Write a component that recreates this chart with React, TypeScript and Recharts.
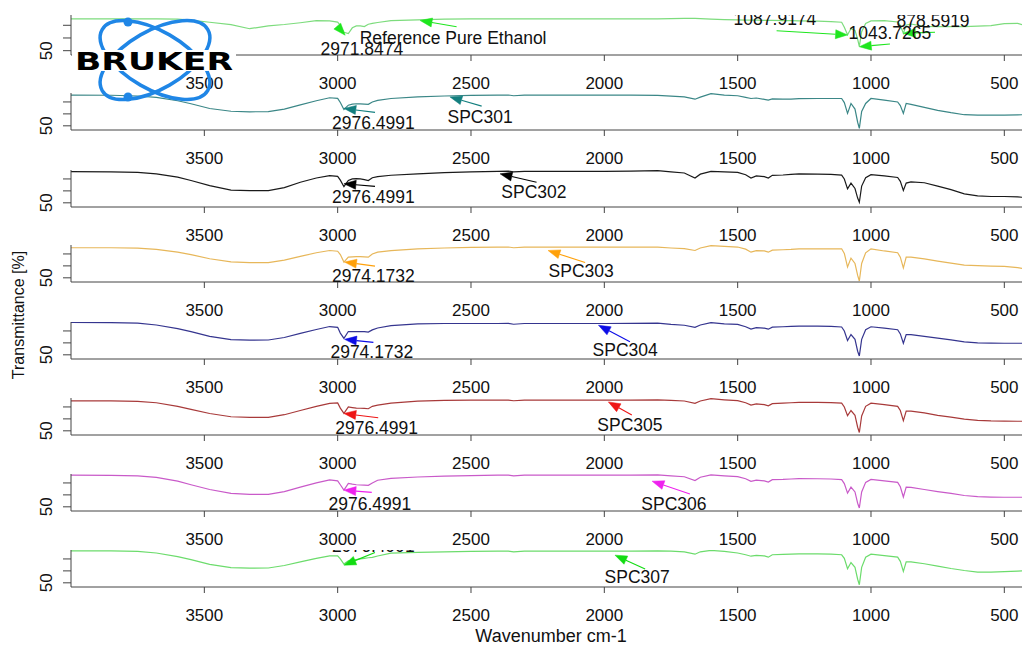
import React from 'react';
import { LineChart, Line, XAxis, YAxis, ReferenceLine, ReferenceDot } from 'recharts';

// shared wavenumber grid (cm-1), high to low
const wavenumbers = [
  4000, 3850, 3750, 3680, 3600, 3550, 3480, 3400, 3330, 3260,
  3200, 3140, 3080, 3030, 3000, 2990, 2976.4991, 2960, 2945, 2930,
  2915, 2900, 2885, 2870, 2850, 2800, 2700, 2600, 2500, 2400,
  2360, 2340, 2300, 2200, 2100, 2000, 1900, 1800, 1750, 1700,
  1660, 1640, 1600, 1550, 1500, 1470, 1450, 1430, 1400, 1385,
  1370, 1330, 1300, 1270, 1200, 1150, 1110, 1100, 1087.9174, 1075,
  1060, 1050, 1043.7265, 1035, 1020, 1000, 950, 900, 890, 878.5919,
  868, 850, 800, 750, 700, 650, 600, 550, 500, 450, 430,
];

// transmittance [%] per sample on the grid above
const referenceEthanol = [
  75, 75, 75, 75, 74.8, 74, 72.4, 70.5, 67.3, 69.6,
  70.6, 72, 73.6, 73.5, 72.5, 70, 64.5, 63.5, 68, 69.5,
  69.5, 69, 70.8, 71.5, 72.2, 73.6, 74.3, 74.8, 75, 75,
  75, 75, 75, 75, 75, 75, 75, 75, 75.2, 75.5,
  75.4, 75.2, 74.8, 74.4, 74.2, 74.1, 74, 74, 73.9, 73.8,
  73.8, 73.7, 73.6, 73.5, 73.2, 72.9, 72.4, 68.5, 62.5, 67.5,
  66, 59, 53.3, 65, 71.5, 73.5, 73.6, 72.6, 70, 63.5,
  70, 71, 69.2, 68.9, 68.9, 69, 69.3, 69.8, 71.3, 71.5, 70.2,
];
const spc301 = [
  75.7, 75.6, 75.0, 73.8, 71.0, 68.5, 64.5, 62.2, 61.75, 61.9,
  64.0, 67.5, 71.0, 73.5, 73.0, 69.5, 63.75, 67.3, 68.2, 68.5,
  68.4, 68.2, 68.0, 70.0, 71.3, 72.9, 74.2, 75.0, 75.5, 75.7,
  75.8, 75.2, 75.7, 75.7, 75.7, 75.8, 75.8, 75.5, 74.8, 74.2,
  72.3, 74.0, 77.0, 75.7, 75.2, 73.8, 72.9, 73.3, 72.2, 71.5,
  72.5, 72.3, 72.4, 72.8, 72.9, 72.9, 72.9, 69.5, 60.4, 68.75,
  64.0, 53.0, 47.9, 62.0, 68.75, 72.9, 71.5, 70.0, 67.0, 60.4,
  68.75, 68.0, 65.5, 63.0, 61.0, 59.3, 59.0, 59.0, 59.0, 59.2, 59.3,
];
const spc302 = [
  76.1, 76.0, 75.5, 74.2, 71.5, 68.7, 64.4, 60.6, 60.2, 60.3,
  62.7, 67.2, 70.8, 72.8, 72.2, 69.0, 63.5, 68.7, 70.0, 70.2,
  70.0, 69.5, 68.7, 71.0, 72.0, 73.1, 74.3, 75.3, 75.9, 76.4,
  76.6, 75.9, 76.4, 76.4, 76.4, 76.4, 76.5, 76.9, 76.0, 75.0,
  70.8, 74.0, 76.3, 76.0, 75.5, 73.5, 70.8, 72.5, 71.9, 70.8,
  73.0, 73.3, 73.8, 74.2, 74.0, 73.8, 73.2, 70.0, 61.7, 66.5,
  62.0, 54.0, 50.5, 64.0, 71.0, 73.6, 72.5, 71.2, 68.0, 60.3,
  66.5, 67.5, 66.8, 64.0, 61.0, 57.5, 55.8, 55.3, 55.3, 55.0, 54.6,
];
const spc303 = [
  75.2, 75.2, 74.8, 73.8, 71.5, 69.5, 66.0, 63.3, 62.7, 62.8,
  64.8, 68.0, 71.0, 72.9, 72.3, 69.5, 63.2, 67.3, 67.6, 67.8,
  67.8, 67.6, 67.3, 70.0, 71.5, 72.8, 74.3, 75.0, 75.5, 75.7,
  75.8, 75.2, 75.7, 75.7, 75.7, 75.7, 75.7, 75.7, 75.0, 74.5,
  72.9, 75.0, 77.0, 76.3, 75.8, 74.0, 71.5, 72.8, 72.5, 71.5,
  73.2, 73.5, 73.8, 74.3, 74.3, 74.3, 74.3, 70.5, 59.0, 66.5,
  62.0, 52.0, 47.3, 62.0, 71.0, 74.3, 72.5, 71.0, 67.3, 58.2,
  67.3, 67.3, 65.8, 64.0, 62.3, 60.6, 60.2, 59.8, 59.6, 58.5, 57.7,
];
const spc304 = [
  77.2, 77.0, 76.5, 75.0, 72.0, 69.5, 65.5, 62.8, 62.3, 62.4,
  64.5, 68.0, 71.2, 73.7, 73.0, 68.2, 63.75, 69.5, 69.5, 69.5,
  69.5, 69.5, 69.0, 70.9, 72.5, 74.5, 76.0, 76.25, 76.25, 76.25,
  76.3, 75.6, 76.25, 76.25, 76.25, 76.25, 76.3, 76.5, 75.5, 74.8,
  73.0, 75.0, 77.0, 76.0, 75.5, 73.5, 71.5, 72.8, 72.3, 71.5,
  73.2, 73.5, 73.8, 74.0, 74.0, 73.8, 73.3, 70.0, 62.0, 67.0,
  63.0, 53.0, 49.0, 63.0, 71.0, 73.5, 72.3, 71.0, 67.5, 59.7,
  67.0, 67.0, 65.5, 64.0, 62.5, 60.8, 60.0, 59.8, 59.7, 59.7, 59.7,
];
const spc305 = [
  75.1, 75.1, 74.6, 73.5, 70.5, 68.0, 64.5, 61.8, 61.2, 61.3,
  63.5, 67.0, 70.5, 73.0, 73.4, 69.0, 64.6, 70.0, 69.5, 69.0,
  68.9, 68.75, 68.5, 70.5, 71.5, 73.2, 74.8, 75.5, 75.7, 75.7,
  75.7, 75.2, 75.7, 75.7, 75.7, 75.7, 75.8, 76.0, 75.5, 75.0,
  73.0, 75.0, 76.9, 76.0, 75.3, 73.5, 71.5, 72.5, 72.0, 71.0,
  72.8, 73.2, 73.5, 73.8, 73.8, 73.6, 73.2, 70.0, 62.75, 67.0,
  63.0, 53.0, 48.6, 62.5, 70.5, 73.2, 72.0, 70.5, 67.0, 58.6,
  66.5, 66.5, 65.0, 63.0, 61.5, 59.8, 58.8, 58.3, 58.1, 58.0, 58.0,
];
const spc306 = [
  76.5, 76.4, 76.0, 74.7, 71.5, 68.5, 64.5, 61.2, 60.4, 60.5,
  62.8, 66.5, 70.0, 72.5, 71.75, 68.5, 64.0, 69.6, 69.0, 68.5,
  68.3, 68.2, 68.0, 70.0, 72.3, 73.8, 75.0, 75.8, 76.2, 76.5,
  76.6, 76.0, 76.5, 76.5, 76.5, 76.5, 76.5, 76.7, 76.0, 75.2,
  72.0, 74.8, 76.8, 76.0, 75.3, 73.5, 71.3, 72.3, 71.8, 70.8,
  72.8, 73.0, 73.3, 73.6, 73.5, 73.3, 72.8, 69.5, 61.5, 66.5,
  62.5, 53.0, 49.0, 62.5, 70.5, 73.0, 71.8, 70.5, 66.8, 58.2,
  66.5, 66.3, 64.5, 62.8, 61.2, 59.5, 58.6, 58.2, 58.0, 58.0, 58.0,
];
const spc307 = [
  76.8, 76.7, 76.3, 75.0, 72.0, 69.5, 65.5, 62.8, 62.3, 62.4,
  64.5, 67.5, 70.5, 72.6, 72.5, 70.0, 65.7, 68.4, 69.0, 69.5,
  70.0, 70.5, 71.0, 71.3, 72.5, 74.8, 75.5, 76.0, 76.3, 76.5,
  76.6, 76.0, 76.5, 76.5, 76.5, 76.5, 76.5, 76.8, 76.5, 76.0,
  74.0, 76.0, 77.2, 76.3, 75.0, 73.5, 72.3, 73.0, 72.5, 71.5,
  73.5, 73.8, 74.0, 74.2, 74.2, 74.0, 73.5, 70.5, 61.75, 67.0,
  63.0, 53.0, 48.4, 63.0, 71.5, 74.0, 72.8, 71.5, 68.0, 59.5,
  67.5, 67.5, 66.0, 64.0, 62.0, 60.3, 59.0, 59.0, 59.3, 59.8, 60.0,
];

const xTicks = [3500, 3000, 2500, 2000, 1500, 1000, 500];
const yTicks = [50, 60, 70];

// picked peaks (cm-1)
const PEAK_CH_REF = 2971.8474;
const PEAK_CH_A = 2976.4991;
const PEAK_CH_B = 2974.1732;
const PEAK_CO_1 = 1087.9174;
const PEAK_CO_2 = 1043.7265;
const PEAK_CC = 878.5919;

type Pt = [number, number];
interface Note { text: string; at: Pt }
interface Arrow { from: Pt; to: Pt }
interface Panel {
  values: number[];
  color: string;
  arrowColor: string;
  axisY: number;
  plotH: number;
  domain: [number, number];
  frameTop?: boolean;
  notes: Note[];
  arrows: Arrow[];
}

const W = 1022;
const LEFT = 71;
const TOP = 10;
const X_DOMAIN: [number, number] = [433.7, 4000];
const AXIS = '#444';
const FONT = '"Liberation Sans", Arial, Helvetica, sans-serif';
const STD_DOMAIN: [number, number] = [46.5, 77.5];

const panels: Panel[] = [
  {
    values: referenceEthanol, color: '#7ddc7d', arrowColor: '#1ee61e',
    axisY: 55, plotH: 40, domain: [46.6, 78.1], frameTop: true,
    notes: [
      { text: 'Reference Pure Ethanol', at: [2567, 60.3] },
      { text: String(PEAK_CH_REF), at: [2909, 51.3] },
      { text: String(PEAK_CO_1), at: [1360, 74.8] },
      { text: String(PEAK_CO_2), at: [929, 63.9] },
      { text: String(PEAK_CC), at: [767, 73.6] },
    ],
    arrows: [
      { from: [2554, 68.9], to: [2691, 73.8] },
      { from: [3000, 69], to: [PEAK_CH_REF, 62.2] },
      { from: [1354, 65.7], to: [PEAK_CO_1, 62.4] },
      { from: [929, 55.3], to: [PEAK_CO_2, 53.1] },
      { from: [760, 64.5], to: [PEAK_CC, 63.7] },
    ],
  },
  {
    values: spc301, color: '#3b8787', arrowColor: '#137f7f',
    axisY: 130, plotH: 37, domain: STD_DOMAIN,
    notes: [
      { text: String(PEAK_CH_A), at: [2866, 52.9] },
      { text: 'SPC301', at: [2466, 57.6] },
    ],
    arrows: [
      { from: [2860, 61.25], to: [PEAK_CH_A, 64.6] },
      { from: [2460, 66.5], to: [2579, 74.25] },
    ],
  },
  {
    values: spc302, color: '#1a1a1a', arrowColor: '#000000',
    axisY: 206.5, plotH: 37, domain: STD_DOMAIN,
    notes: [
      { text: String(PEAK_CH_A), at: [2866, 55.4] },
      { text: 'SPC302', at: [2264, 59.6] },
    ],
    arrows: [
      { from: [2860, 63.75], to: [PEAK_CH_A, 66] },
      { from: [2254, 67.3], to: [2391, 74.3] },
    ],
  },
  {
    values: spc303, color: '#e7b75a', arrowColor: '#ffa10a',
    axisY: 282, plotH: 37, domain: STD_DOMAIN,
    notes: [
      { text: String(PEAK_CH_B), at: [2866, 52.1] },
      { text: 'SPC303', at: [2087, 56.25] },
    ],
    arrows: [
      { from: [2860, 59.8], to: [PEAK_CH_B, 63.2] },
      { from: [2072, 62.9], to: [2211, 72.9] },
    ],
  },
  {
    values: spc304, color: '#35358f', arrowColor: '#0d0de6',
    axisY: 359, plotH: 37, domain: STD_DOMAIN,
    notes: [
      { text: String(PEAK_CH_B), at: [2872, 52.6] },
      { text: 'SPC304', at: [1922, 54] },
    ],
    arrows: [
      { from: [2866, 60.4], to: [PEAK_CH_B, 63] },
      { from: [1904, 60.9], to: [2022, 74.8] },
    ],
  },
  {
    values: spc305, color: '#a83a3a', arrowColor: '#ee1515',
    axisY: 434.5, plotH: 37, domain: STD_DOMAIN,
    notes: [
      { text: String(PEAK_CH_A), at: [2854, 52.9] },
      { text: 'SPC305', at: [1904, 54.8] },
    ],
    arrows: [
      { from: [2848, 60.9], to: [PEAK_CH_A, 64.6] },
      { from: [1897, 63.2], to: [1985, 74.25] },
    ],
  },
  {
    values: spc306, color: '#c95ac9', arrowColor: '#ee22ee',
    axisY: 511, plotH: 37, domain: STD_DOMAIN,
    notes: [
      { text: String(PEAK_CH_A), at: [2879, 52.9] },
      { text: 'SPC306', at: [1739, 52.8] },
    ],
    arrows: [
      { from: [2872, 62.1], to: [PEAK_CH_A, 64] },
      { from: [1679, 60.7], to: [1821, 71.5] },
    ],
  },
  {
    values: spc307, color: '#6cdc6c', arrowColor: '#12dc12',
    axisY: 587, plotH: 37, domain: STD_DOMAIN,
    notes: [
      { text: String(PEAK_CH_A), at: [2866, 81.3] },
      { text: 'SPC307', at: [1877, 54.8] },
    ],
    arrows: [
      { from: [2860, 75.4], to: [PEAK_CH_A, 64.8] },
      { from: [1847, 61.5], to: [1960, 73.2] },
    ],
  },
];

// nested svg viewport over the plot box: anything drawn inside is cut at its edges
const PlotBox = ({ plotH, children }: { plotH: number; children: React.ReactNode }) => (
  <svg x={LEFT} y={TOP} width={W - LEFT} height={plotH} overflow="hidden">
    <g transform={`translate(${-LEFT},${-TOP})`}>{children}</g>
  </svg>
);

// line from the tail with a filled head at the tip
const arrowShape = (color: string, plotH: number) => (p: any) => {
  const { x1, y1, x2, y2 } = p;
  const dx = x2 - x1;
  const dy = y2 - y1;
  const len = Math.hypot(dx, dy) || 1;
  const ux = dx / len;
  const uy = dy / len;
  const L = 12;
  const H = 4.5;
  const bx = x2 - ux * L;
  const by = y2 - uy * L;
  const head = `${x2},${y2} ${bx - uy * H},${by + ux * H} ${bx + uy * H},${by - ux * H}`;
  return (
    <PlotBox plotH={plotH}>
      <line x1={x1} y1={y1} x2={bx} y2={by} stroke={color} strokeWidth={1.1} />
      <polygon points={head} fill={color} stroke={color} strokeWidth={0.5} />
    </PlotBox>
  );
};

const noteShape = (text: string, plotH: number) => (p: any) => (
  <PlotBox plotH={plotH}>
    <text x={p.cx} y={p.cy} dy="0.36em" textAnchor="middle" fontSize={17.5} fill="#111">
      {text}
    </text>
  </PlotBox>
);

const renderYTick = (p: any) =>
  p.payload.value === 50 ? (
    <text x={0} y={0} transform={`translate(${p.x - 9},${p.y}) rotate(-90)`} textAnchor="middle" fontSize={17} fill="#111">
      50
    </text>
  ) : (
    <g />
  );

function SpectrumPanel({ panel }: { panel: Panel }) {
  const data = wavenumbers.map((w, i) => ({ w, t: panel.values[i] }));
  const height = TOP + panel.plotH + 45;
  return (
    <div style={{ position: 'absolute', left: 0, top: panel.axisY - panel.plotH - TOP }}>
      <LineChart width={W} height={height} data={data} margin={{ top: TOP, right: 0, bottom: 0, left: 0 }}>
        <XAxis
          dataKey="w"
          type="number"
          domain={X_DOMAIN}
          reversed
          allowDataOverflow
          ticks={xTicks}
          interval={0}
          height={45}
          tickSize={6}
          tickMargin={16}
          axisLine={{ stroke: AXIS }}
          tickLine={{ stroke: AXIS }}
          tick={{ fill: '#111', fontSize: 17 }}
        />
        {panel.frameTop && (
          <XAxis
            xAxisId="top"
            orientation="top"
            type="number"
            domain={X_DOMAIN}
            reversed
            allowDataOverflow
            height={0}
            tick={false}
            tickLine={false}
            axisLine={{ stroke: '#777' }}
          />
        )}
        <YAxis
          type="number"
          domain={panel.domain}
          allowDataOverflow
          ticks={yTicks}
          interval={0}
          width={LEFT}
          tickSize={8}
          tickMargin={2}
          axisLine={{ stroke: AXIS }}
          tickLine={{ stroke: AXIS }}
          tick={renderYTick}
        />
        <Line
          type="linear"
          dataKey="t"
          stroke={panel.color}
          strokeWidth={1.2}
          dot={false}
          activeDot={false}
          isAnimationActive={false}
        />
        {panel.arrows.map((a, k) => (
          <ReferenceLine
            key={`a${k}`}
            segment={[{ x: a.from[0], y: a.from[1] }, { x: a.to[0], y: a.to[1] }]}
            ifOverflow="visible"
            shape={arrowShape(panel.arrowColor, panel.plotH)}
          />
        ))}
        {panel.notes.map((n, k) => (
          <ReferenceDot
            key={`n${k}`}
            x={n.at[0]}
            y={n.at[1]}
            r={2}
            ifOverflow="visible"
            shape={noteShape(n.text, panel.plotH)}
          />
        ))}
      </LineChart>
    </div>
  );
}

function BrukerLogo() {
  const blue = '#1f86e6';
  return (
    <g>
      <ellipse cx={155} cy={60} rx={61} ry={29} transform="rotate(30 155 60)" fill="none" stroke={blue} strokeWidth={3.5} />
      <ellipse cx={155} cy={60} rx={61} ry={29} transform="rotate(-30 155 60)" fill="none" stroke={blue} strokeWidth={3.5} />
      <circle cx={128} cy={22} r={4.5} fill={blue} />
      <circle cx={128} cy={97} r={4.5} fill={blue} />
      <rect x={72} y={50} width={164} height={21} fill="#fff" />
      <text
        x={75}
        y={70}
        fontSize={25}
        fontWeight={900}
        fontFamily='"DejaVu Sans", sans-serif'
        textLength={158}
        lengthAdjust="spacingAndGlyphs"
        fill="#000"
      >
        BRUKER
      </text>
    </g>
  );
}

export default function App() {
  return (
    <div
      style={{
        position: 'absolute',
        left: 0,
        top: 0,
        width: W,
        height: 650,
        overflow: 'hidden',
        background: '#fff',
        fontFamily: FONT,
      }}
    >
      {panels.map((p, i) => (
        <SpectrumPanel key={i} panel={p} />
      ))}
      <svg width={W} height={650} style={{ position: 'absolute', left: 0, top: 0, pointerEvents: 'none' }}>
        <text transform="translate(24,315) rotate(-90)" textAnchor="middle" fontSize={16} fill="#111" fontFamily={FONT}>
          Transmittance [%]
        </text>
        <text x={551} y={642} textAnchor="middle" fontSize={18} fill="#111" fontFamily={FONT}>
          Wavenumber cm-1
        </text>
        <BrukerLogo />
      </svg>
    </div>
  );
}
